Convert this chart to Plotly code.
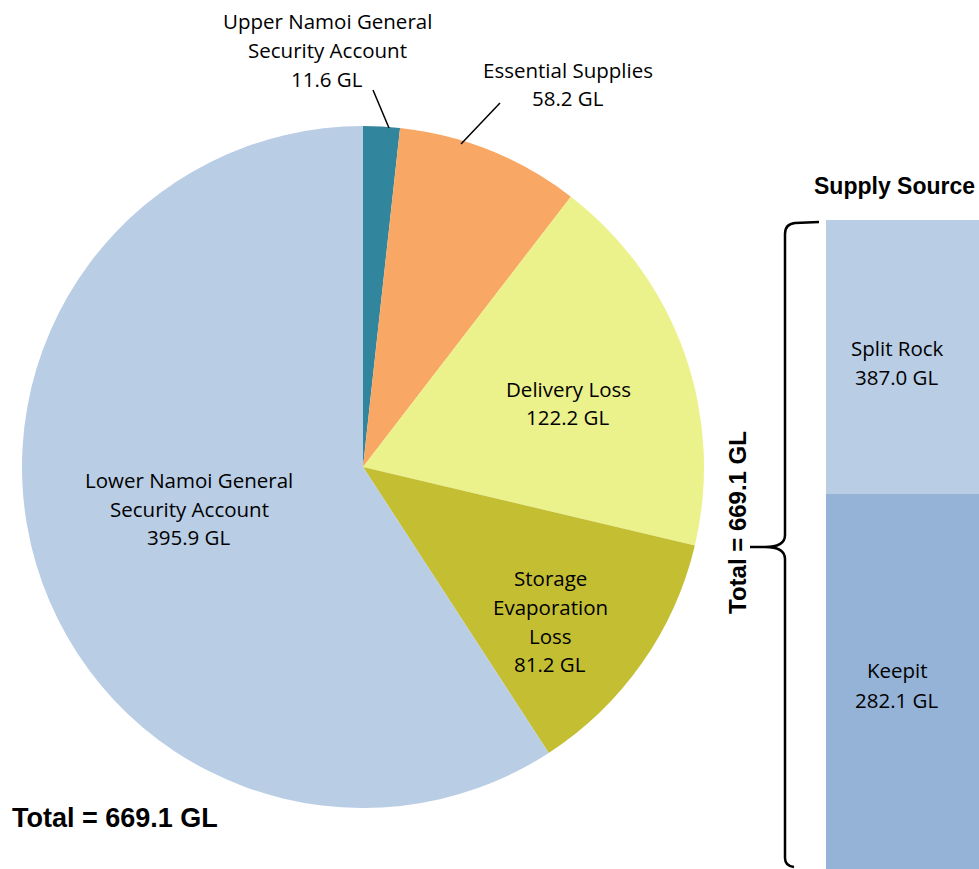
import plotly.graph_objects as go

W, H = 979, 869
OFF = 0

# ---- data ----
pie_labels = ["Upper Namoi General Security Account", "Essential Supplies",
              "Delivery Loss", "Storage Evaporation Loss",
              "Lower Namoi General Security Account"]
pie_values = [11.6, 58.2, 122.2, 81.2, 395.9]
pie_colors = ["#31859C", "#F9A764", "#EBF18B", "#C4BE33", "#B9CDE5"]

# supply source bar (segment heights as drawn in the picture, bottom first)
bar_names = ["Keepit", "Split Rock"]
bar_heights = [387.0, 282.1]
bar_label_values = ["282.1 GL", "387.0 GL"]
bar_colors = ["#95B3D7", "#B9CDE5"]
total = 669.1

FONT = "Open Sans"
BOLD = "Liberation Sans"


def px(x, y):
    return (x - OFF) / W, 1 - (y - OFF) / H


fig = go.Figure()
x0, y0 = px(22, 808)
x1, y1 = px(704, 126)
fig.add_trace(go.Pie(
    labels=pie_labels, values=pie_values, sort=False, direction="clockwise",
    rotation=0, marker=dict(colors=pie_colors, line=dict(width=0)),
    textinfo="none", hoverinfo="label+value", showlegend=False,
    domain=dict(x=[x0, x1], y=[y0, y1]),
))

for i in range(2):
    fig.add_trace(go.Bar(
        x=[0.5], y=[bar_heights[i]], width=[2], marker=dict(color=bar_colors[i], line=dict(width=0)),
        xaxis="x", yaxis="y", showlegend=False, name=bar_names[i],
    ))

bx0, _ = px(826, 0)
_, by1 = px(0, 220)
fig.update_layout(
    width=W, height=H, margin=dict(l=0, r=0, t=0, b=0),
    paper_bgcolor="white", plot_bgcolor="white", barmode="stack",
    xaxis=dict(domain=[bx0, 1], range=[0, 1], visible=False, fixedrange=True),
    yaxis=dict(domain=[0, by1], range=[0, total], visible=False, fixedrange=True),
)

ann = []


def lines(cx, ys, texts, size=20.5):
    for yy, t in zip(ys, texts):
        ax, ay = px(cx, yy)
        ann.append(dict(x=ax, y=ay, xref="paper", yref="paper", text=t, showarrow=False,
                        xanchor="center", yanchor="middle",
                        font=dict(family=FONT, size=size, color="black")))


lines(327, [21, 50, 79], ["Upper Namoi General", "Security Account", f"{pie_values[0]} GL"])
lines(568, [70, 98], ["Essential Supplies", f"{pie_values[1]} GL"])
lines(568, [389, 417], ["Delivery Loss", f"{pie_values[2]} GL"])
lines(550, [578, 607, 636, 664], ["Storage", "Evaporation", "Loss", f"{pie_values[3]} GL"])
lines(189, [480, 509, 537], ["Lower Namoi General", "Security Account", f"{pie_values[4]} GL"])
lines(897, [348, 377], [bar_names[1], bar_label_values[1]])
lines(897, [670, 700], [bar_names[0], bar_label_values[0]])

tx, ty = px(10, 818)
ann.append(dict(x=tx, y=ty, xref="paper", yref="paper", text=f"<b>Total = {total} GL</b>",
                showarrow=False, xanchor="left", yanchor="middle",
                font=dict(family=BOLD, size=27, color="black")))
sx, sy = px(812, 186)
ann.append(dict(x=sx, y=sy, xref="paper", yref="paper", text="<b>Supply Source</b>",
                showarrow=False, xanchor="left", yanchor="middle",
                font=dict(family=BOLD, size=23, color="black")))
vx, vy = px(737, 523)
ann.append(dict(x=vx, y=vy, xref="paper", yref="paper", text=f"<b>Total = {total} GL</b>",
                showarrow=False, xanchor="center", yanchor="middle", textangle=-90,
                font=dict(family=BOLD, size=24, color="black")))
fig.update_layout(annotations=ann)

shapes = []
for (a, b, c, d) in [(373, 90, 389, 128), (500, 103, 461, 144)]:
    p0 = px(a, b)
    p1 = px(c, d)
    shapes.append(dict(type="line", xref="paper", yref="paper", x0=p0[0], y0=p0[1],
                       x1=p1[0], y1=p1[1], line=dict(color="black", width=1.5)))

pts = [("M", 819, 222), ("L", 795, 223), ("Q", 785, 224), (None, 785, 234), ("L", 785, 535),
       ("Q", 785, 547), (None, 765, 547), ("L", 750, 547), ("L", 765, 547), ("Q", 785, 547),
       (None, 785, 559), ("L", 785, 858), ("Q", 785, 866), (None, 794, 867)]
path = ""
for cmd, a, b in pts:
    X, Y = px(a, b)
    path += (cmd + " " if cmd else "") + f"{X:.5f},{Y:.5f} "
shapes.append(dict(type="path", xref="paper", yref="paper", path=path.strip(),
                   line=dict(color="black", width=2.5)))
fig.update_layout(shapes=shapes)

fig.write_html("out.html", config={"displayModeBar": False},
               post_script="document.body.style.margin='0';document.body.style.overflow='hidden';")
